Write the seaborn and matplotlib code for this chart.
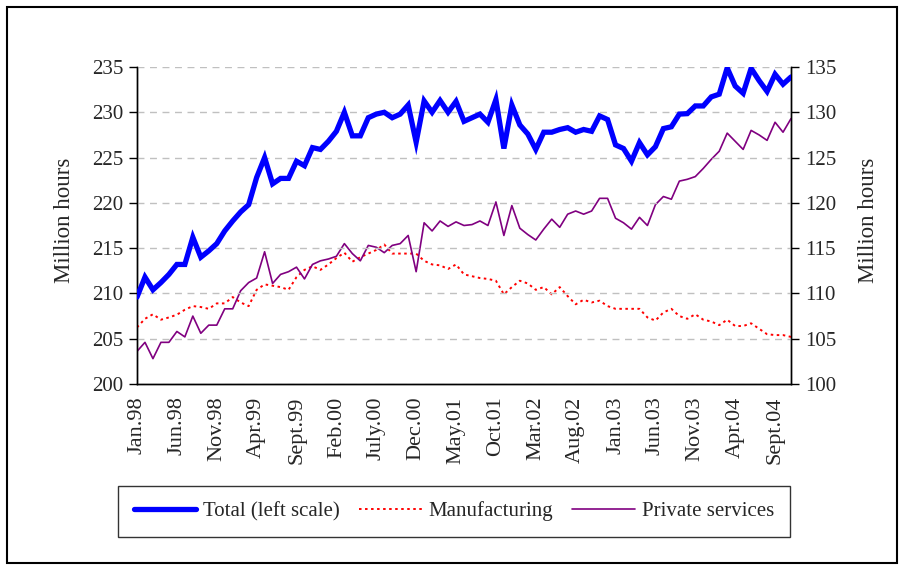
import matplotlib
matplotlib.use("Agg")
import matplotlib.pyplot as plt
import seaborn as sns
import pandas as pd
import numpy as np
from matplotlib.patches import Rectangle
from matplotlib.lines import Line2D

# ---------------- data ----------------
tick_labels = ["Jan.98", "Jun.98", "Nov.98", "Apr.99", "Sept.99", "Feb.00", "July.00",
               "Dec.00", "May.01", "Oct.01", "Mar.02", "Aug.02", "Jan.03", "Jun.03",
               "Nov.03", "Apr.04", "Sept.04"]

total = [209.6, 211.8, 210.4, 211.2, 212.1, 213.2, 213.2, 216.2, 214.0, 214.7,
         215.5, 216.9, 218.0, 219.0, 219.8, 222.8, 225.0, 222.1, 222.7, 222.7,
         224.6, 224.1, 226.1, 225.9, 226.8, 227.9, 230.0, 227.4, 227.4, 229.4,
         229.8, 230.0, 229.4, 229.8, 230.8, 226.7, 231.25, 230.0, 231.3, 230.0,
         231.2, 229.0, 229.4, 229.8, 228.9, 231.4, 226.0, 230.8, 228.6, 227.6,
         225.9, 227.8, 227.8, 228.1, 228.3, 227.8, 228.1, 227.9, 229.6, 229.2,
         226.4, 226.0, 224.6, 226.65, 225.3, 226.2, 228.2, 228.4, 229.8, 229.85,
         230.7, 230.7, 231.7, 232.0, 234.9, 232.9, 232.1, 234.85, 233.5, 232.3,
         234.2, 233.1, 233.9]

manufacturing = [106.25, 107.2, 107.7, 107.1, 107.35, 107.65, 108.2, 108.6, 108.5, 108.3,
                 108.9, 108.9, 109.6, 109.0, 108.6, 110.4, 111.0, 110.85, 110.7, 110.4,
                 111.8, 112.6, 113.0, 112.6, 113.2, 113.9, 114.5, 113.5, 114.0, 114.4,
                 114.8, 115.4, 114.4, 114.4, 114.4, 114.4, 113.6, 113.2, 113.1, 112.7,
                 113.2, 112.1, 111.9, 111.7, 111.6, 111.4, 109.9, 110.7, 111.4, 111.1,
                 110.4, 110.7, 109.9, 110.7, 109.7, 108.8, 109.3, 109.0, 109.2, 108.6,
                 108.3, 108.3, 108.3, 108.3, 107.35, 107.0, 107.9, 108.3, 107.5, 107.2,
                 107.7, 107.1, 106.9, 106.5, 107.1, 106.4, 106.4, 106.7, 106.1, 105.5,
                 105.4, 105.4, 105.2]

private_services = [103.6, 104.6, 102.8, 104.6, 104.6, 105.8, 105.2, 107.5, 105.6, 106.5,
                    106.5, 108.3, 108.3, 110.3, 111.2, 111.7, 114.6, 111.1, 112.1, 112.4,
                    112.9, 111.6, 113.2, 113.6, 113.8, 114.1, 115.5, 114.4, 113.6, 115.3,
                    115.1, 114.5, 115.3, 115.5, 116.4, 112.4, 117.8, 116.9, 118.0, 117.4,
                    117.9, 117.5, 117.6, 118.0, 117.5, 120.1, 116.4, 119.7, 117.2, 116.5,
                    115.9, 117.1, 118.2, 117.3, 118.75, 119.1, 118.75, 119.1, 120.5, 120.5,
                    118.3, 117.8, 117.1, 118.4, 117.5, 119.8, 120.7, 120.4, 122.4, 122.6,
                    122.9, 123.8, 124.8, 125.7, 127.7, 126.8, 125.9, 128.0, 127.5, 126.9,
                    128.9, 127.8, 129.3]

month = np.arange(len(total))
df = pd.DataFrame({"month": month, "Total": total,
                   "Manufacturing": manufacturing, "Private services": private_services})

# ---------------- style ----------------
sns.set_style("white")
plt.rcParams["font.family"] = ["Liberation Serif", "DejaVu Serif"]
FS_Y = 15
FS_X = 16
FS_LAB = 16.5
FS_LEG = 15

fig = plt.figure(figsize=(9.04, 5.68), dpi=100)
W, H = 904, 568
ax = fig.add_axes([137 / W, 1 - 384 / H, (791 - 137) / W, (384 - 67) / H])
ax2 = ax.twinx()

BLUE = "#0000FF"
RED = "#FF0000"
PURPLE = "#800080"
DOT = (0, (1.3, 1.8))

sns.lineplot(data=df, x="month", y="Total", ax=ax, color=BLUE, linewidth=3.8,
             solid_joinstyle="miter", zorder=3)
sns.lineplot(data=df, x="month", y="Manufacturing", ax=ax2, color=RED, linewidth=1.4,
             linestyle=DOT, zorder=3)
sns.lineplot(data=df, x="month", y="Private services", ax=ax2, color=PURPLE,
             linewidth=1.2, zorder=3)

ax.set_ylim(200, 235)
ax2.set_ylim(100, 135)
ax.set_xlim(0, len(total) - 1)
ax.set_yticks(np.arange(200, 236, 5))
ax2.set_yticks(np.arange(100, 136, 5))

# gridlines (left axis)
ax.yaxis.grid(True, color="#c0c0c0", linestyle=(0, (5, 4)), linewidth=1.0)
ax.set_axisbelow(True)
ax.set_zorder(ax2.get_zorder() + 1)
ax.patch.set_visible(False)

xt = list(range(len(total)))
lab = ["" for _ in xt]
for k, t in enumerate(tick_labels):
    lab[k * 5] = t
ax.set_xticks(xt)
ax.set_xticklabels(lab, rotation=90, fontsize=FS_X)

for a in (ax, ax2):
    for s in a.spines.values():
        s.set_color("black")
        s.set_linewidth(1.0)
    a.spines["top"].set_visible(False)
    a.set_xlabel("")
ax.tick_params(axis="x", direction="out", length=6, width=1, color="black", pad=3)
ax.tick_params(axis="y", direction="out", length=6, width=1, color="black", pad=4,
               labelsize=FS_Y)
ax2.tick_params(axis="y", direction="out", length=6, width=1, color="black", pad=4,
                labelsize=FS_Y)

ax.set_ylabel("Million hours", fontsize=FS_LAB)
ax2.set_ylabel("Million hours", fontsize=FS_LAB, rotation=90)
ax.yaxis.set_label_coords((75 - 137) / 654, (384 - 220) / 317)
ax2.yaxis.set_label_coords((858 - 137) / 654, (384 - 220) / 317)

# legend
handles = [Line2D([], [], color=BLUE, linewidth=3.8),
           Line2D([], [], color=RED, linewidth=1.4, linestyle=DOT),
           Line2D([], [], color=PURPLE, linewidth=1.2)]
labels = ["Total (left scale)", "Manufacturing", "Private services"]
leg = fig.legend(handles, labels, loc="lower left",
                 bbox_to_anchor=(118 / W, 1 - 537 / H, (790 - 118) / W, (537 - 474) / H),
                 mode="expand", ncol=3, fontsize=FS_LEG, frameon=True, fancybox=False,
                 edgecolor="black", handlelength=3.0, handletextpad=0.35,
                 borderaxespad=0, borderpad=0.75)
leg.get_frame().set_linewidth(1.0)

# outer border
fig.patches.append(Rectangle((7 / W, 5 / H), (897 - 7) / W, (561 - 5) / H,
                             transform=fig.transFigure, fill=False,
                             edgecolor="black", linewidth=1.5))

fig.savefig("out.png", dpi=100)
